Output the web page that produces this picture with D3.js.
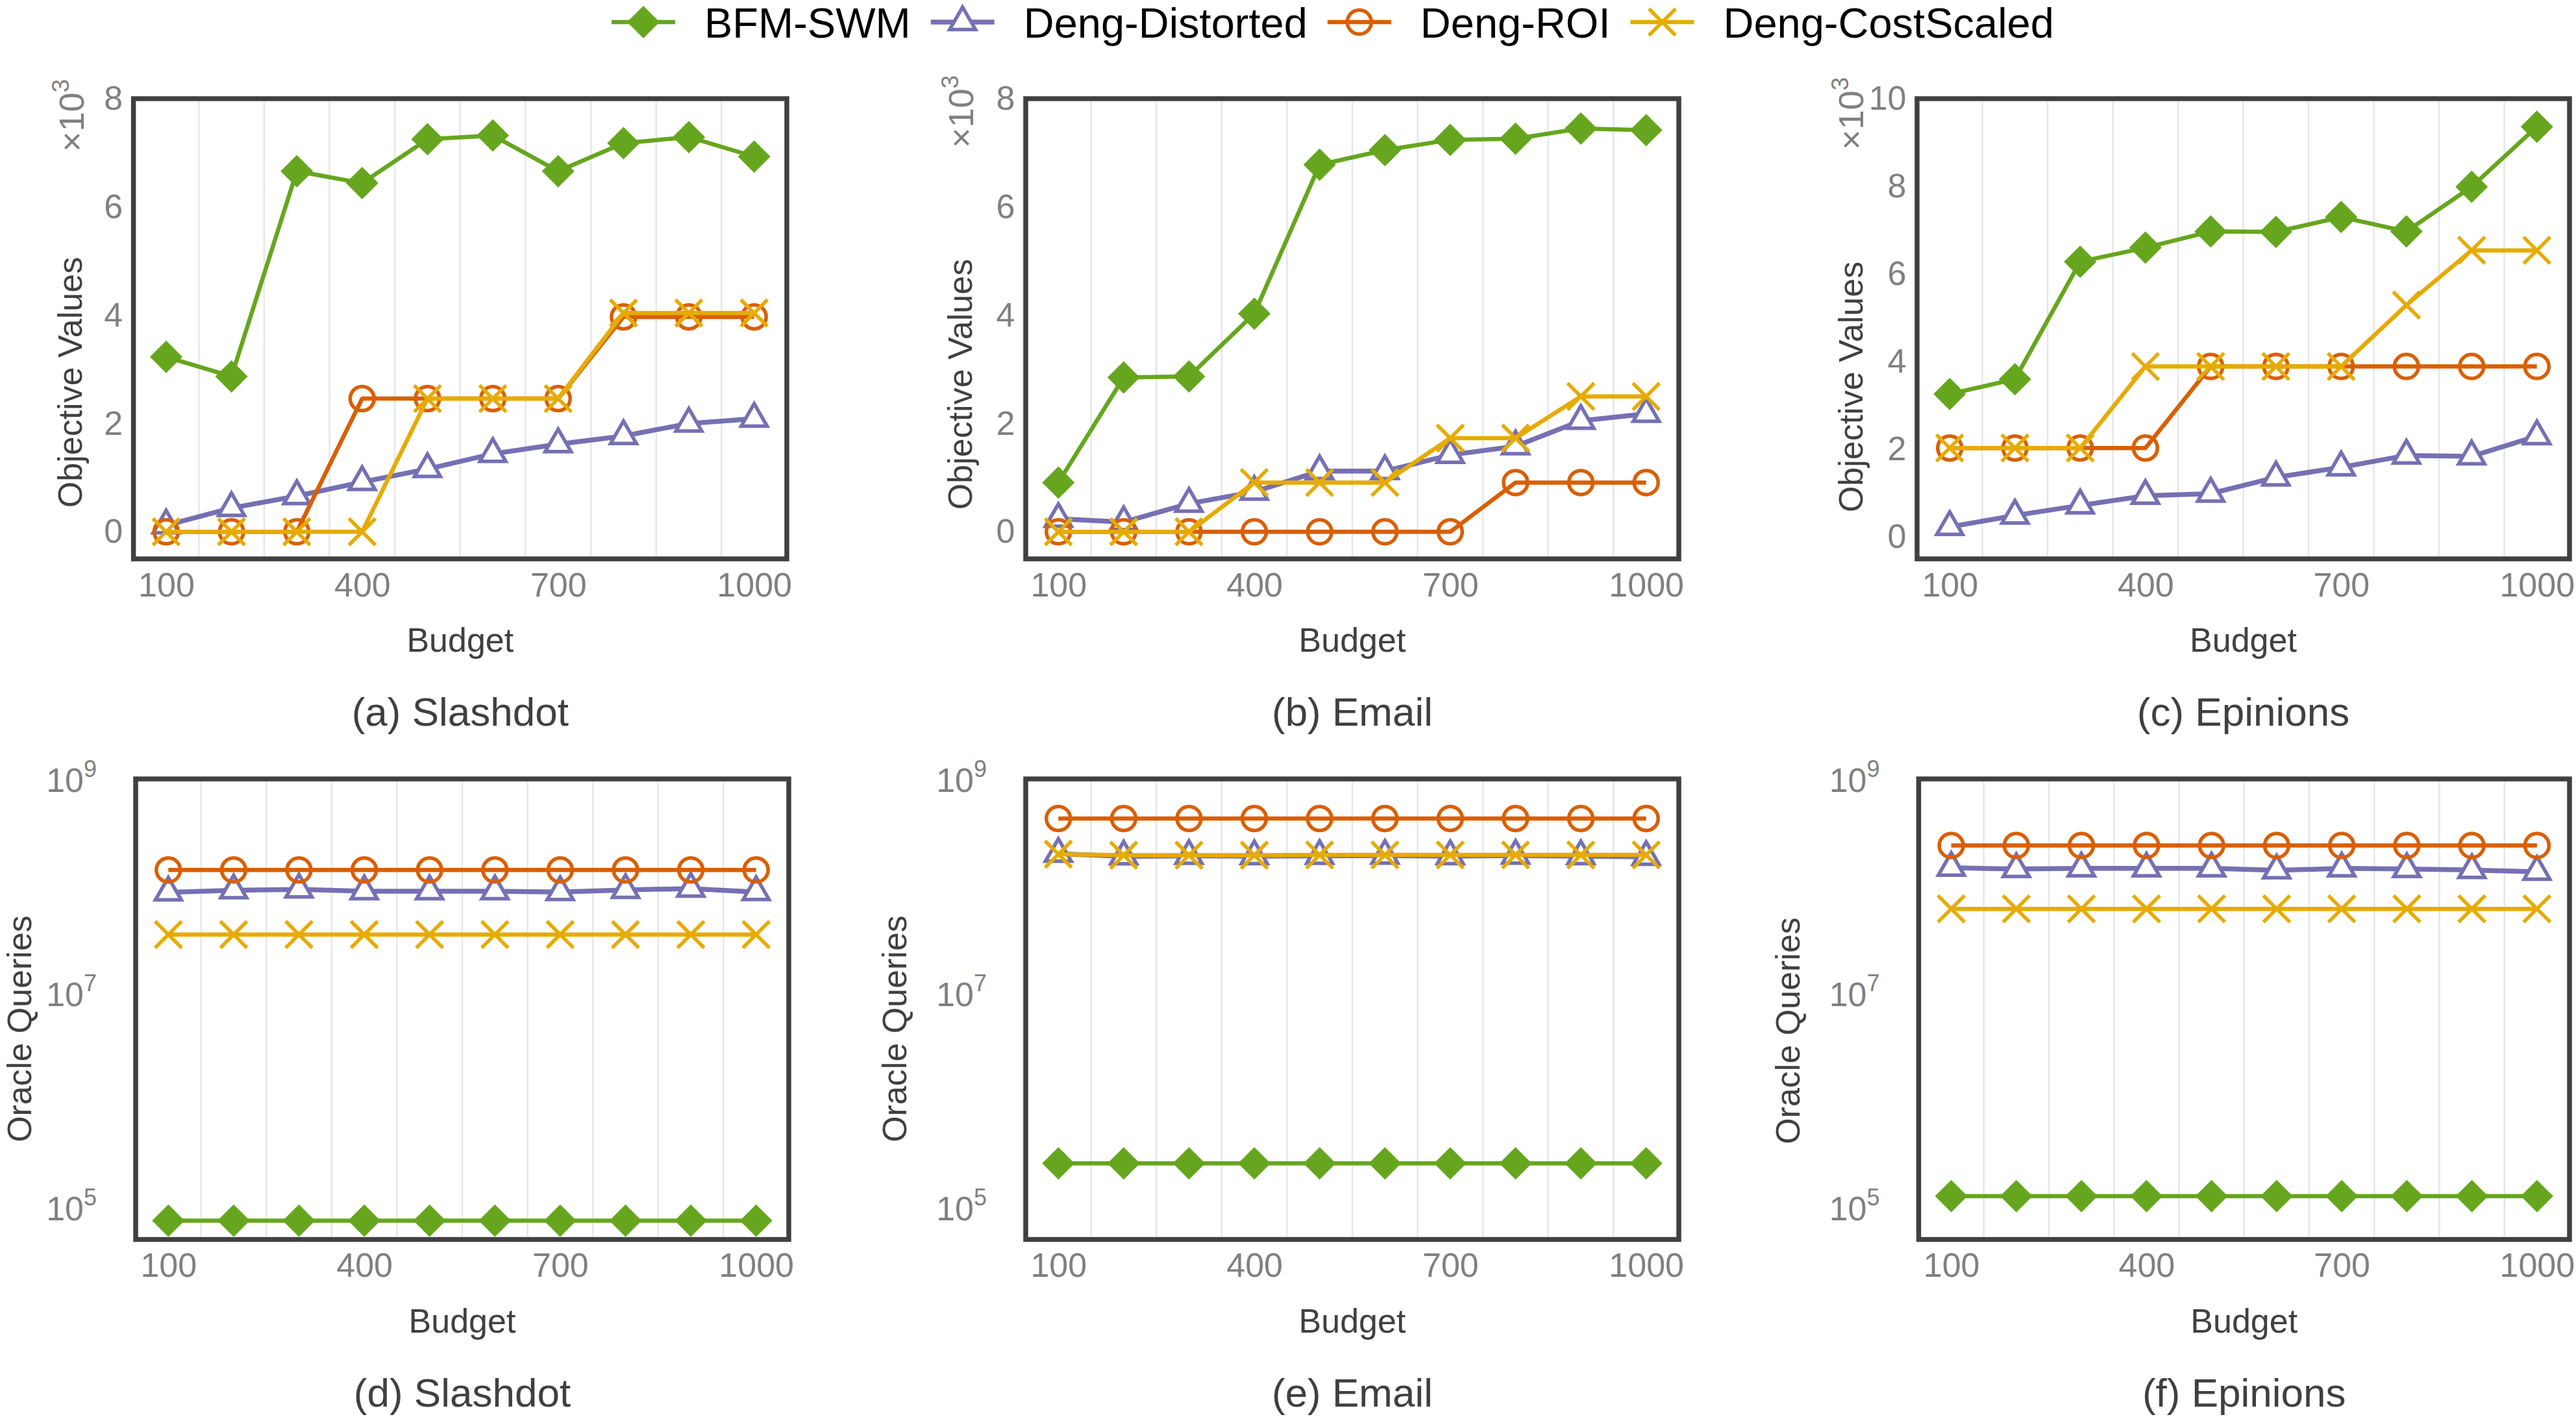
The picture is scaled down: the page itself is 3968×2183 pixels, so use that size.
<!DOCTYPE html>
<html lang="en">
<head>
<meta charset="utf-8">
<script src="https://d3js.org/d3.v7.min.js"></script>
<style>
  body { margin: 0; background: #fff; }
  text { font-family: "Liberation Sans", Arial, Helvetica, sans-serif; }
</style>
</head>
<body>
<script>
// ---- data ----
var budgets = [100, 200, 300, 400, 500, 600, 700, 800, 900, 1000];
var xTicks = [100, 400, 700, 1000];
var xGrid = [150, 250, 350, 450, 550, 650, 750, 850, 950];
var seriesNames = ["BFM-SWM", "Deng-Distorted", "Deng-ROI", "Deng-CostScaled"];
var yTicksObj8 = [0, 2, 4, 6, 8];
var yTicksObj10 = [0, 2, 4, 6, 8, 10];
var yTicksLog = [1e5, 1e7, 1e9];

// objective values (x10^3)
var slashdotBFM       = [3.23, 2.87, 6.66, 6.44, 7.25, 7.32, 6.66, 7.18, 7.29, 6.93];
var slashdotDistorted = [0.12, 0.44, 0.66, 0.92, 1.16, 1.44, 1.62, 1.77, 2.00, 2.09];
var slashdotROI       = [0, 0, 0, 2.46, 2.46, 2.46, 2.46, 3.97, 3.97, 3.97];
var slashdotCost      = [0, 0, 0, 0, 2.46, 2.46, 2.46, 4.04, 4.04, 4.04];

var emailBFM       = [0.91, 2.85, 2.87, 4.03, 6.78, 7.05, 7.24, 7.26, 7.45, 7.42];
var emailDistorted = [0.24, 0.18, 0.52, 0.74, 1.12, 1.12, 1.42, 1.58, 2.05, 2.18];
var emailROI       = [0, 0, 0, 0, 0, 0, 0, 0.91, 0.91, 0.91];
var emailCost      = [0, 0, 0, 0.91, 0.91, 0.91, 1.73, 1.73, 2.50, 2.50];

var epinionsBFM       = [3.26, 3.60, 6.28, 6.60, 6.97, 6.96, 7.30, 6.97, 7.99, 9.36];
var epinionsDistorted = [0.23, 0.49, 0.72, 0.94, 0.99, 1.36, 1.59, 1.86, 1.84, 2.30];
var epinionsROI       = [2.03, 2.03, 2.03, 2.03, 3.89, 3.89, 3.89, 3.89, 3.89, 3.89];
var epinionsCost      = [2.03, 2.03, 2.03, 3.89, 3.89, 3.89, 3.89, 5.29, 6.54, 6.54];

// oracle queries
var slashdotQBFM       = [7.5e4, 7.5e4, 7.5e4, 7.5e4, 7.5e4, 7.5e4, 7.5e4, 7.5e4, 7.5e4, 7.5e4];
var slashdotQDistorted = [8.71e7, 9.12e7, 9.29e7, 8.95e7, 8.95e7, 8.95e7, 8.79e7, 9.20e7, 9.46e7, 8.79e7];
var slashdotQROI       = [1.41e8, 1.41e8, 1.41e8, 1.41e8, 1.41e8, 1.41e8, 1.41e8, 1.41e8, 1.41e8, 1.41e8];
var slashdotQCost      = [3.52e7, 3.52e7, 3.52e7, 3.52e7, 3.52e7, 3.52e7, 3.52e7, 3.52e7, 3.52e7, 3.52e7];

var emailQBFM       = [2.57e5, 2.57e5, 2.57e5, 2.57e5, 2.57e5, 2.57e5, 2.57e5, 2.57e5, 2.57e5, 2.57e5];
var emailQDistorted = [2.00e8, 1.89e8, 1.91e8, 1.90e8, 1.91e8, 1.92e8, 1.90e8, 1.92e8, 1.90e8, 1.87e8];
var emailQROI       = [4.27e8, 4.27e8, 4.27e8, 4.27e8, 4.27e8, 4.27e8, 4.27e8, 4.27e8, 4.27e8, 4.27e8];
var emailQCost      = [1.98e8, 1.94e8, 1.94e8, 1.94e8, 1.95e8, 1.95e8, 1.95e8, 1.95e8, 1.95e8, 1.95e8];

var epinionsQBFM       = [1.27e5, 1.27e5, 1.27e5, 1.27e5, 1.27e5, 1.27e5, 1.27e5, 1.27e5, 1.27e5, 1.27e5];
var epinionsQDistorted = [1.48e8, 1.44e8, 1.46e8, 1.46e8, 1.46e8, 1.40e8, 1.46e8, 1.44e8, 1.41e8, 1.36e8];
var epinionsQROI       = [2.39e8, 2.39e8, 2.39e8, 2.39e8, 2.39e8, 2.39e8, 2.39e8, 2.39e8, 2.39e8, 2.39e8];
var epinionsQCost      = [6.12e7, 6.12e7, 6.12e7, 6.12e7, 6.12e7, 6.12e7, 6.12e7, 6.12e7, 6.12e7, 6.12e7];

// ---- styles ----
var colors = ["#66a61e", "#7570b3", "#d95f02", "#e6ab02"];
var shapes = ["diamond", "triangle", "circle", "cross"];
var lineWidths = [6.5, 7.5, 6.5, 6.5];
var tickGray = "#808080", darkGray = "#404040";

var panels = [
  { caption: "(a) Slashdot", ytitle: "Objective Values", log: false, ymax: 8, ticks: yTicksObj8,
    series: [slashdotBFM, slashdotDistorted, slashdotROI, slashdotCost],
    box: [205.6, 1212, 152, 861], title: [126, 589], mult: [129, 234] },
  { caption: "(b) Email", ytitle: "Objective Values", log: false, ymax: 8, ticks: yTicksObj8,
    series: [emailBFM, emailDistorted, emailROI, emailCost],
    box: [1580, 2586, 152, 861], title: [1497, 592], mult: [1499, 228] },
  { caption: "(c) Epinions", ytitle: "Objective Values", log: false, ymax: 10, ticks: yTicksObj10,
    series: [epinionsBFM, epinionsDistorted, epinionsROI, epinionsCost],
    box: [2953, 3958, 152, 861], title: [2869, 596], mult: [2870, 231] },
  { caption: "(d) Slashdot", ytitle: "Oracle Queries", log: true, ticks: yTicksLog,
    series: [slashdotQBFM, slashdotQDistorted, slashdotQROI, slashdotQCost],
    box: [209, 1215, 1200, 1909.5], title: [48, 1585] },
  { caption: "(e) Email", ytitle: "Oracle Queries", log: true, ticks: yTicksLog,
    series: [emailQBFM, emailQDistorted, emailQROI, emailQCost],
    box: [1580, 2586, 1200, 1909.5], title: [1396, 1585] },
  { caption: "(f) Epinions", ytitle: "Oracle Queries", log: true, ticks: yTicksLog,
    series: [epinionsQBFM, epinionsQDistorted, epinionsQROI, epinionsQCost],
    box: [2955.5, 3958, 1200, 1909.5], title: [2772, 1588] }
];

var svg = d3.select("body").append("svg")
  .attr("width", 3968)
  .attr("height", 2183);

function drawMarker(g, k, x, y) {
  var c = colors[k];
  if (shapes[k] == "diamond") {
    g.append("path").attr("d", "M0,-25L25,0L0,25L-25,0Z")
      .attr("transform", "translate(" + x + "," + y + ")")
      .attr("fill", c);
  } else if (shapes[k] == "triangle") {
    g.append("path").attr("d", "M0,-23L19.9,11.5L-19.9,11.5Z")
      .attr("transform", "translate(" + x + "," + y + ")")
      .attr("fill", "#fff").attr("stroke", c).attr("stroke-width", 5.5)
      .attr("stroke-linejoin", "miter");
  } else if (shapes[k] == "circle") {
    g.append("circle").attr("cx", x).attr("cy", y).attr("r", 18.5)
      .attr("fill", "none").attr("stroke", c).attr("stroke-width", 5.5);
  } else {
    g.append("path").attr("d", "M-20.5,-20.5L20.5,20.5M20.5,-20.5L-20.5,20.5")
      .attr("transform", "translate(" + x + "," + y + ")")
      .attr("fill", "none").attr("stroke", c).attr("stroke-width", 5.5);
  }
}

panels.forEach(function (p) {
  var x0 = p.box[0], x1 = p.box[1], y0 = p.box[2], y1 = p.box[3];
  var g = svg.append("g");

  var x = d3.scaleLinear().domain([50, 1050]).range([x0, x1]);
  var y = p.log
    ? d3.scaleLog().domain([5e4, 1e9]).range([y1, y0])
    : d3.scaleLinear().domain([-0.5, p.ymax]).range([y1, y0]);

  // vertical grid
  g.selectAll(".grid").data(xGrid).enter().append("line")
    .attr("x1", function (d) { return x(d); })
    .attr("x2", function (d) { return x(d); })
    .attr("y1", y0).attr("y2", y1)
    .attr("stroke", "#e6e6e6").attr("stroke-width", 2.5);

  // series
  var line = d3.line()
    .x(function (d, i) { return x(budgets[i]); })
    .y(function (d) { return y(d); });

  p.series.forEach(function (vals, k) {
    var sg = g.append("g");
    sg.append("path").attr("d", line(vals))
      .attr("fill", "none").attr("stroke", colors[k])
      .attr("stroke-width", lineWidths[k]).attr("stroke-linejoin", "round");
    vals.forEach(function (v, i) { drawMarker(sg, k, x(budgets[i]), y(v)); });
  });

  // frame
  g.append("rect").attr("x", x0).attr("y", y0)
    .attr("width", x1 - x0).attr("height", y1 - y0)
    .attr("fill", "none").attr("stroke", darkGray).attr("stroke-width", 7.5);

  // x axis
  var xa = g.append("g").attr("transform", "translate(0," + y1 + ")")
    .call(d3.axisBottom(x).tickValues(xTicks).tickSize(0).tickPadding(20.6)
      .tickFormat(d3.format("d")));
  xa.select(".domain").remove();
  xa.selectAll("text").attr("font-size", 52).attr("fill", tickGray)
    .attr("font-family", "Liberation Sans, Arial, sans-serif");

  // y axis
  var ya;
  if (p.log) {
    ya = g.append("g").attr("transform", "translate(" + x0 + ",0)")
      .call(d3.axisLeft(y).tickValues(p.ticks).tickSize(0).tickPadding(60)
        .tickFormat(function () { return ""; }));
    ya.selectAll("text").each(function (d) {
      var t = d3.select(this).attr("dy", "0.38em").attr("font-size", 52);
      t.append("tspan").text("10");
      t.append("tspan").attr("font-size", 36).attr("dy", -23)
        .text(Math.round(Math.log10(d)));
    });
  } else {
    ya = g.append("g").attr("transform", "translate(" + x0 + ",0)")
      .call(d3.axisLeft(y).tickValues(p.ticks).tickSize(0).tickPadding(16.5));
    ya.selectAll("text").attr("font-size", 52);
    // x10^3 multiplier
    var m = g.append("text")
      .attr("transform", "translate(" + p.mult[0] + "," + p.mult[1] + ") rotate(-90)")
      .attr("font-size", 54).attr("fill", tickGray);
    m.append("tspan").text("\u00d710");
    m.append("tspan").attr("font-size", 37).attr("dy", -23).text("3");
  }
  ya.select(".domain").remove();
  ya.selectAll("text").attr("fill", tickGray)
    .attr("font-family", "Liberation Sans, Arial, sans-serif");

  // titles
  g.append("text").attr("x", (x0 + x1) / 2).attr("y", y1 + 143)
    .attr("text-anchor", "middle").attr("font-size", 52).attr("fill", darkGray)
    .text("Budget");
  g.append("text")
    .attr("transform", "translate(" + p.title[0] + "," + p.title[1] + ") rotate(-90)")
    .attr("text-anchor", "middle").attr("font-size", 52).attr("fill", darkGray)
    .text(p.ytitle);
  g.append("text").attr("x", (x0 + x1) / 2).attr("y", y1 + 257)
    .attr("text-anchor", "middle").attr("font-size", 62).attr("fill", darkGray)
    .text(p.caption);
});

// ---- legend ----
var lg = svg.append("g");
var cx = 991;
seriesNames.forEach(function (name, k) {
  lg.append("line").attr("x1", cx - 49).attr("x2", cx + 49)
    .attr("y1", 34).attr("y2", 34)
    .attr("stroke", colors[k]).attr("stroke-width", lineWidths[k]);
  drawMarker(lg, k, cx, 34);
  var t = lg.append("text").attr("x", cx + 94).attr("y", 58)
    .attr("font-size", 65).attr("fill", "#000").text(name);
  cx = cx + 94 + t.node().getComputedTextLength() + 80;
});
</script>
</body>
</html>
